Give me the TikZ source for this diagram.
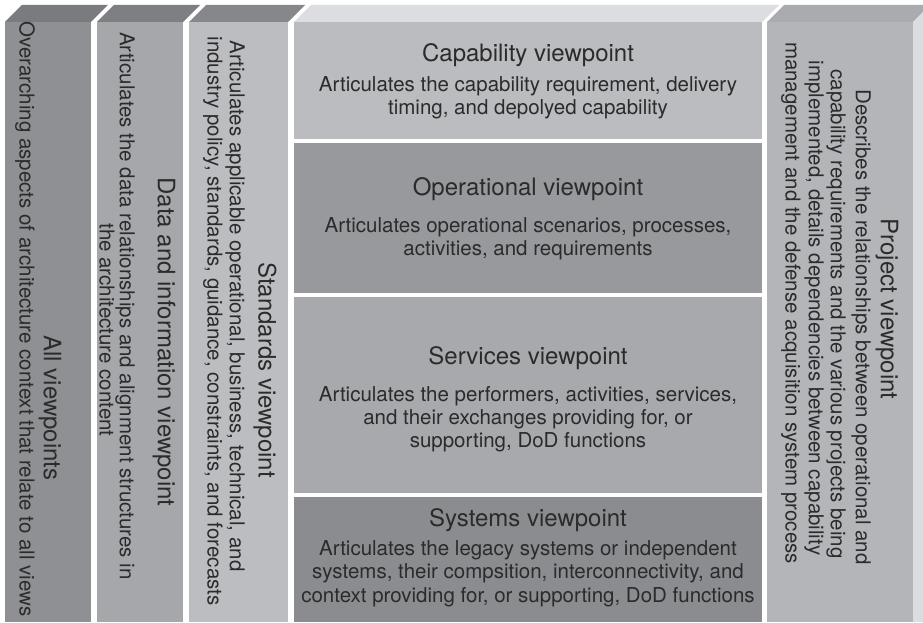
\documentclass[tikz,border=0pt]{standalone}
\usepackage{fontspec}
\setmainfont{TeX Gyre Heros}
\definecolor{txt}{HTML}{2B2B2B}
\definecolor{cOneFront}{HTML}{8F9094}
\definecolor{cOneTop}{HTML}{7A7B7F}
\definecolor{cTwoFront}{HTML}{A6A7AB}
\definecolor{cTwoTop}{HTML}{7E7F83}
\definecolor{cThreeFront}{HTML}{BCBDC1}
\definecolor{cThreeTop}{HTML}{86878B}
\definecolor{cenTop}{HTML}{DCDDE0}
\definecolor{capC}{HTML}{BBBCC0}
\definecolor{operC}{HTML}{98999D}
\definecolor{servC}{HTML}{A8A9AD}
\definecolor{sysC}{HTML}{8B8C90}
\definecolor{projFront}{HTML}{B4B5B9}
\definecolor{projTop}{HTML}{AAABAF}
\definecolor{projSide}{HTML}{DCDDE0}
\begin{document}
\begin{tikzpicture}[x=1pt,y=-1pt,
  ttl/.style={font=\fontsize{24}{28}\selectfont, text=txt, inner sep=0pt},
  dsc/.style={font=\fontsize{20.5}{23}\selectfont, text=txt, inner sep=0pt},
  vert/.style={rotate=-90, anchor=center}]
\useasboundingbox (0,0) rectangle (923,623);
\fill[white] (0,0) rectangle (923,623);
\begin{scope}
\clip (0,0) rectangle (923,623);
% column 1
\fill[cOneTop] (5,22) -- (22,5) -- (108,5) -- (91,22) -- cycle;
\fill[cOneFront] (5,22) rectangle (91,622);
% column 2
\fill[cTwoTop] (97,22) -- (114,5) -- (200,5) -- (183,22) -- cycle;
\fill[cTwoFront] (97,22) rectangle (183,622);
% column 3
\fill[cThreeTop] (189,22) -- (206,5) -- (305,5) -- (288,22) -- cycle;
\fill[cThreeFront] (189,22) rectangle (288,622);
% centre column
\fill[cenTop] (294,22) -- (311,5) -- (779,5) -- (762,22) -- cycle;
\fill[capC] (294,22) rectangle (762,139);
\fill[operC] (294,143) rectangle (762,293);
\fill[servC] (294,297) rectangle (762,493);
\fill[sysC] (294,497) rectangle (762,622);
% project column
\fill[projTop] (767,22) -- (784,5) -- (930,5) -- (913,22) -- cycle;
\fill[projFront] (767,22) rectangle (913,622);
\fill[projSide] (913,22) -- (930,5) -- (930,622) -- (913,622) -- cycle;
\end{scope}
% column 1 texts
\node[ttl,vert] (t1) at (50,408) {All viewpoints};
\node[dsc,vert] (d1) at (25,319) {Overarching aspects of architecture context that relate to all views};
% column 2 texts
\node[ttl,vert] (t2) at (164,342) {Data and information viewpoint};
\node[dsc,vert] (d2a) at (125,306) {Articulates the data relationships and alignment structures in};
\node[dsc,vert] (d2b) at (107,330) {the architecture content};
% column 3 texts
\node[ttl,vert] (t3) at (265,370) {Standards viewpoint};
\node[dsc,vert] (d3a) at (235,306) {Articulates applicable operational, business, technical, and};
\node[dsc,vert] (d3b) at (213,321) {industry policy, standards, guidance, constraints, and forecasts};
% project texts
\node[ttl,vert] (tp) at (887,309) {Project viewpoint};
\node[dsc,vert] (dpa) at (861,327) {Describes the relationships between operational and};
\node[dsc,vert] (dpb) at (836,314) {capability requirements and the various projects being};
\node[dsc,vert] (dpc) at (814,308) {implemented, details dependencies between capability};
\node[dsc,vert] (dpd) at (791,303) {management and the defense acquisition system process};
% capability
\node[ttl,anchor=base] (capT) at (528,62) {Capability viewpoint};
\node[dsc,anchor=base] (capA) at (528,92) {Articulates the capability requirement, delivery};
\node[dsc,anchor=base] (capB) at (528,115) {timing, and depolyed capability};
% operational
\node[ttl,anchor=base] (opT) at (528,195) {Operational viewpoint};
\node[dsc,anchor=base] (opA) at (528,232) {Articulates operational scenarios, processes,};
\node[dsc,anchor=base] (opB) at (528,255) {activities, and requirements};
% services
\node[ttl,anchor=base] (svT) at (528,364) {Services viewpoint};
\node[dsc,anchor=base] (svA) at (528,401) {Articulates the performers, activities, services,};
\node[dsc,anchor=base] (svB) at (528,424) {and their exchanges providing for, or};
\node[dsc,anchor=base] (svC) at (528,447) {supporting, DoD functions};
% systems
\node[ttl,anchor=base] (syT) at (528,526) {Systems viewpoint};
\node[dsc,anchor=base] (syA) at (528,555) {Articulates the legacy systems or independent};
\node[dsc,anchor=base] (syB) at (528,578) {systems, their compsition, interconnectivity, and};
\node[dsc,anchor=base] (syC) at (528,602) {context providing for, or supporting, DoD functions};
\end{tikzpicture}
\end{document}
